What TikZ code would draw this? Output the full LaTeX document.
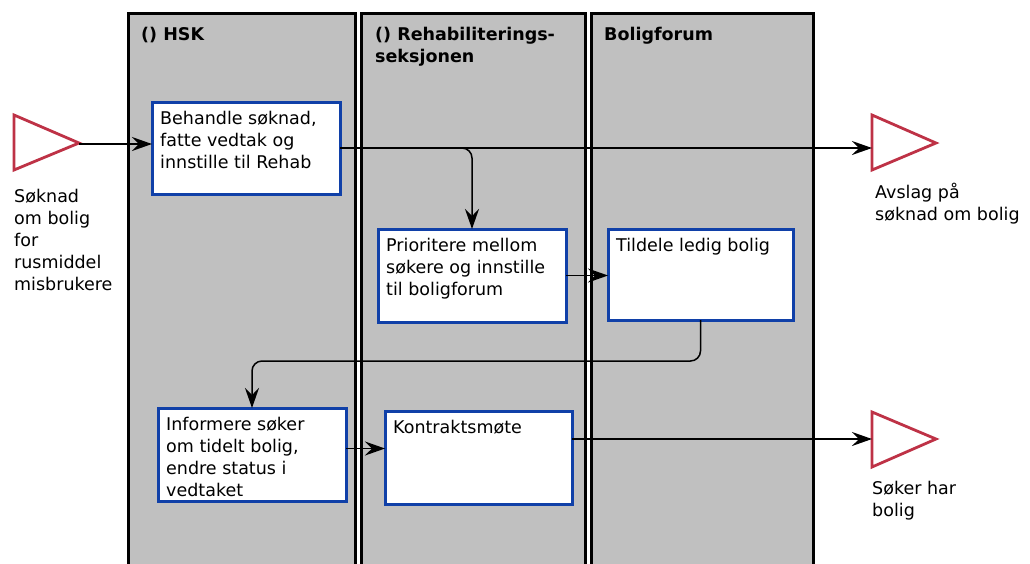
\documentclass[tikz,border=0pt]{standalone}
\usepackage{fontspec}
\setmainfont{DejaVu Sans}
\usepackage{xcolor}
\usetikzlibrary{arrows.meta,positioning,calc}
\definecolor{lanegray}{RGB}{192,192,192}
\definecolor{taskblue}{RGB}{16,64,168}
\definecolor{eventred}{RGB}{190,50,70}
\tikzset{
  lane/.style={draw=black, line width=3pt, fill=lanegray},
  lanehead/.style={anchor=north west, align=left, inner sep=0pt, font=\bfseries\fontsize{17.5}{22}\selectfont},
  task/.style={draw=taskblue, line width=3pt, fill=white, anchor=north west, inner sep=0pt, outer sep=0pt},
  tasktext/.style={anchor=north west, align=left, inner sep=0pt, xshift=8pt, yshift=-9pt},
  event/.style={draw=eventred, line width=2.8pt, line join=miter},
  eventtext/.style={anchor=north west, align=left, inner sep=0pt},
  flow/.style={-{Stealth[length=20pt,width=14pt,inset=7pt]}, line width=1.5pt, rounded corners=10pt},
}

\begin{document}
\begin{tikzpicture}[x=1pt, y=-1pt, font=\fontsize{17.5}{22}\selectfont]
\useasboundingbox (0,0) rectangle (1030,563);

% lanes
\draw[lane] (128,13) rectangle (355,570);
\draw[lane] (361,13) rectangle (585,570);
\draw[lane] (591,13) rectangle (813,570);
\node[lanehead] (hsk) at (141,27) {() HSK};
\node[lanehead] (rehab) at (375,27) {() Rehabiliterings-\\seksjonen};
\node[lanehead] (boligforum) at (604,27) {Boligforum};

% start and end events
\draw[event] (14,115) -- (79,143) -- (14,170) -- cycle;
\coordinate (soknad) at (79,144);
\node[eventtext] (soknadtxt) at (14,189) {Søknad\\om bolig\\for\\rusmiddel\\misbrukere};

\draw[event] (872,115) -- (936,143) -- (872,170) -- cycle;
\coordinate (avslag) at (872,148);
\node[eventtext] (avslagtxt) at (875,183) {Avslag på\\søknad om bolig};

\draw[event] (872,412) -- (936,439) -- (872,467) -- cycle;
\coordinate (harbolig) at (872,439);
\node[eventtext] (harboligtxt) at (872,481) {Søker har\\bolig};

% tasks
\node[task, minimum width=188pt, minimum height=92pt,
  label={[tasktext]north west:{Behandle søknad,\\fatte vedtak og\\innstille til Rehab}}] (behandle) at (152,102) {};
\node[task, minimum width=188pt, minimum height=93pt,
  label={[tasktext]north west:{Prioritere mellom\\søkere og innstille\\til boligforum}}] (prioritere) at (378,229) {};
\node[task, minimum width=185pt, minimum height=91pt,
  label={[tasktext]north west:{Tildele ledig bolig}}] (tildele) at (608,229) {};
\node[task, minimum width=188pt, minimum height=93pt,
  label={[tasktext]north west:{Informere søker\\om tidelt bolig,\\endre status i\\vedtaket}}] (informere) at (158,408) {};
\node[task, minimum width=187pt, minimum height=93pt,
  label={[tasktext]north west:{Kontraktsmøte}}] (kontrakt) at (385,411) {};

% flows
\draw[flow] (soknad) -- (soknad -| behandle.west);
\draw[flow] (behandle.east) -- (avslag);
\draw[flow] (behandle.east) -| (prioritere.north);
\draw[flow] (prioritere.east) -- (prioritere.east -| tildele.west);
\coordinate (knekk) at (252,361);
\draw[flow] (tildele.south) |- (knekk) -- (informere.north);
\draw[flow] ([yshift=6pt]informere.east) -- ([yshift=6pt]informere.east -| kontrakt.west);
\draw[flow] (harbolig -| kontrakt.east) -- (harbolig);
\end{tikzpicture}
\end{document}
